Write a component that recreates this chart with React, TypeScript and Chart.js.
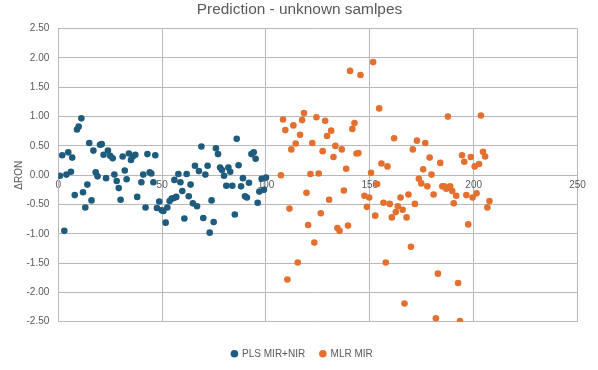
import React, { useEffect, useRef } from "react";
import { Chart, registerables } from "chart.js";

Chart.register(...registerables);

const TITLE = "Prediction - unknown samlpes";
const Y_TITLE = "ΔRON";

const PLS_LABEL = "PLS MIR+NIR";
const MLR_LABEL = "MLR MIR";

const plsX = [
  0.8, 1.9, 2.9, 4.8, 3.9, 6.1, 6.7, 7.9, 9.0, 9.8, 11.1, 11.9, 13.0, 14.0, 14.9, 16.0, 16.9, 18.0, 18.9, 20.1,
  20.9, 21.8, 23.0, 23.9, 25.0, 26.2, 27.0, 28.1, 29.1, 30.0, 31.0, 32.0, 32.9, 34.0, 35.0, 35.9, 37.1, 38.0, 40.0, 40.9,
  42.0, 42.9, 44.0, 44.8, 45.8, 46.7, 47.5, 48.6, 49.8, 50.6, 51.7, 52.5, 53.6, 54.6, 55.7, 56.8, 55.9, 57.8, 58.8, 59.7,
  60.7, 61.8, 62.8, 63.7, 64.8, 65.8, 66.8, 67.7, 68.9, 69.8, 70.8, 71.9, 72.9, 73.8, 74.8, 75.9, 76.9, 77.9, 78.8, 79.8,
  80.9, 81.9, 82.8, 83.8, 85.0, 85.9, 86.8, 88.0, 88.9, 89.9, 90.8, 91.8, 93.0, 94.1, 95.0, 96.0, 96.8, 97.9, 99.0, 100.0,
];
const plsY = [
  -0.01, 0.34, -0.95, 0.39, 0.01, 0.06, 0.3, -0.34, 0.78, 0.83, 0.97, -0.29, -0.55, -0.16, 0.55, -0.43, 0.42, 0.05, -0.02, 0.52,
  0.53, 0.35, -0.05, 0.42, 0.33, 0.29, 0.01, -0.1, -0.22, -0.42, 0.32, 0.08, -0.07, 0.37, 0.26, 0.32, 0.35, -0.37, -0.12, 0.01,
  -0.55, 0.36, 0.05, 0.03, -0.12, 0.34, -0.56, -0.45, -0.6, -0.61, -0.81, -0.55, -0.44, -0.4, -0.39, -0.37, -0.08, 0.02, -0.12, -0.27,
  -0.74, 0.02, -0.36, -0.16, -0.48, 0.16, -0.53, 0.07, 0.49, -0.73, 0.01, 0.16, -0.98, -0.43, -0.8, 0.46, 0.36, 0.13, 0.09, -0.01,
  -0.18, 0.13, 0.06, -0.18, -0.67, 0.62, 0.17, -0.19, -0.05, -0.36, -0.38, -0.13, 0.36, 0.39, 0.28, -0.47, -0.28, -0.06, -0.25, -0.04,
];

const mlrX = [
  107.2, 108.2, 109.3, 110.3, 111.3, 112.2, 113.2, 114.3, 115.3, 116.4, 117.4, 118.3, 119.5, 120.3, 121.4, 122.3, 123.3, 124.3, 125.4, 126.4,
  127.3, 128.5, 129.4, 130.4, 131.4, 132.5, 133.4, 134.4, 135.4, 136.5, 137.5, 138.6, 139.5, 140.5, 141.6, 142.6, 143.6, 144.5, 145.5, 147.4,
  148.6, 149.7, 150.6, 151.6, 152.6, 153.5, 154.5, 155.6, 156.6, 157.7, 158.5, 159.6, 160.6, 161.7, 162.5, 163.5, 164.8, 165.8, 166.7, 167.7,
  168.6, 169.8, 170.7, 171.7, 172.7, 173.6, 174.8, 175.7, 176.7, 177.7, 178.8, 179.7, 180.7, 181.8, 182.8, 183.9, 184.9, 185.9, 186.8, 187.6,
  188.7, 189.7, 190.4, 191.6, 192.5, 193.4, 194.4, 195.5, 196.5, 197.4, 198.6, 199.5, 200.5, 201.4, 202.6, 203.5, 204.5, 205.5, 206.6, 207.6,
];
const mlrY = [
  0.0, 0.95, 0.77, -1.78, -0.57, 0.44, 0.85, 0.54, -1.49, 0.69, 0.94, 1.06, -0.3, -0.85, 0.02, 0.55, -1.15, 0.99, 0.03, -0.65,
  0.41, 0.93, 0.67, -0.42, 0.76, 0.31, 0.5, -0.9, -0.95, 0.44, -0.26, 0.11, -0.86, 1.78, 0.79, 0.89, 0.37, 0.38, 1.71, -0.35,
  -0.54, -0.38, 0.04, 1.93, -0.69, -0.15, 1.14, 0.2, -0.47, -1.49, 0.15, -0.49, -0.72, 0.63, -0.63, -0.53, -0.38, -0.59, -2.19, -0.72,
  -0.33, -1.22, 0.44, -0.49, 0.59, -0.06, -0.14, 0.1, 0.55, -0.19, 0.3, 0.01, -0.33, -2.44, -1.68, 0.21, -0.19, -0.19, -0.23, 1.0,
  -0.19, -0.27, -0.48, -0.35, -1.84, -2.49, 0.34, 0.23, -0.34, -0.84, 0.31, -0.38, 0.15, -0.31, 0.19, 1.02, 0.4, 0.32, -0.55, -0.44,
];

const X_MIN = 0;
const X_MAX = 250;
const X_STEP = 50;
const Y_MIN = -2.5;
const Y_MAX = 2.5;
const Y_STEP = 0.5;

const BLUE = "#1e5b7c";
const ORANGE = "#e4702f";
const GRID = "#b8b8b8";
const TEXT = "#595959";
const FONT = '"Liberation Sans", Arial, sans-serif';

const overlayPlugin = {
  id: "overlay",
  afterDraw(chart: any) {
    const ctx = chart.ctx as CanvasRenderingContext2D;
    const area = chart.chartArea;
    ctx.save();
    // Title
    ctx.fillStyle = TEXT;
    ctx.font = `15.4px ${FONT}`;
    ctx.textAlign = "center";
    ctx.textBaseline = "alphabetic";
    ctx.fillText(TITLE, 299.5, 14);

    // Y-axis title
    ctx.save();
    ctx.translate(19.5, (area.top + area.bottom) / 2);
    ctx.rotate(-Math.PI / 2);
    ctx.font = `10px ${FONT}`;
    ctx.textAlign = "center";
    ctx.textBaseline = "middle";
    ctx.fillText(Y_TITLE, 0, 0);
    ctx.restore();

    // Legend
    ctx.font = `10px ${FONT}`;
    const r = 3.8;
    const gapText = 7.7;
    const gapItem = 17.7;
    const items = chart.data.datasets.map((d: any) => ({
      label: d.label as string,
      color: d.backgroundColor as string,
      w: ctx.measureText(d.label).width,
    }));
    let total = 0;
    items.forEach((it: any, i: number) => {
      total += r + gapText + it.w;
      if (i < items.length - 1) total += gapItem;
    });
    total += r;
    let x = 305.5 - total / 2 + r;
    const y = 353.7;
    ctx.textAlign = "left";
    ctx.textBaseline = "middle";
    items.forEach((it: any) => {
      ctx.beginPath();
      ctx.arc(x, y, r, 0, Math.PI * 2);
      ctx.fillStyle = it.color;
      ctx.fill();
      ctx.fillStyle = TEXT;
      ctx.fillText(it.label, x + gapText, y + 0.5);
      x += gapText + it.w + gapItem;
    });
    ctx.restore();
  },
};

export default function App() {
  const canvasRef = useRef<HTMLCanvasElement | null>(null);

  useEffect(() => {
    if (!canvasRef.current) return;
    const pls = plsX.map((x, i) => ({ x, y: plsY[i] }));
    const mlr = mlrX.map((x, i) => ({ x, y: mlrY[i] }));
    const chart = new Chart(canvasRef.current, {
      type: "scatter",
      data: {
        datasets: [
          {
            label: PLS_LABEL,
            data: pls,
            backgroundColor: BLUE,
            borderColor: BLUE,
            borderWidth: 0,
            pointRadius: 3.3,
            pointHoverRadius: 3.3,
          },
          {
            label: MLR_LABEL,
            data: mlr,
            backgroundColor: ORANGE,
            borderColor: ORANGE,
            borderWidth: 0,
            pointRadius: 3.3,
            pointHoverRadius: 3.3,
          },
        ],
      },
      options: {
        animation: false,
        responsive: false,
        devicePixelRatio: 1,
        layout: {
          padding: { left: 0, top: 28.7, right: 20.5, bottom: 48.3 },
        },
        plugins: {
          legend: { display: false },
          title: { display: false },
          tooltip: { enabled: false },
        },
        scales: {
          x: {
            type: "linear",
            position: { y: 0 } as any,
            min: X_MIN,
            max: X_MAX,
            grid: { color: GRID, lineWidth: 1, drawTicks: false },
            border: { display: true, color: GRID, width: 1 },
            ticks: {
              stepSize: X_STEP,
              padding: 4,
              color: TEXT,
              font: { family: FONT, size: 10 },
              maxRotation: 0,
              callback: (v: any) => String(v),
            },
          },
          y: {
            type: "linear",
            position: "left",
            min: Y_MIN,
            max: Y_MAX,
            grid: { color: GRID, lineWidth: 1, drawTicks: false },
            border: { display: true, color: GRID, width: 1 },
            ticks: {
              stepSize: Y_STEP,
              padding: 9,
              color: TEXT,
              font: { family: FONT, size: 10 },
              callback: (v: any) => Number(v).toFixed(2),
            },
            afterFit: (scale: any) => {
              scale.width = 58.3;
            },
          },
        },
      },
      plugins: [overlayPlugin],
    });
    return () => chart.destroy();
  }, []);

  return (
    <div style={{ position: "fixed", left: 0, top: 0, width: 598, height: 370, background: "#fff" }}>
      <canvas ref={canvasRef} width={598} height={370} style={{ display: "block", width: 598, height: 370 }} />
    </div>
  );
}
